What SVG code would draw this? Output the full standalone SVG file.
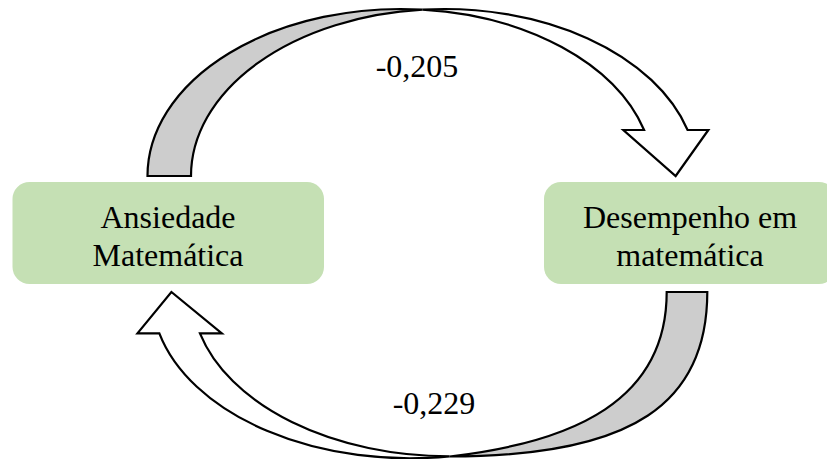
<svg xmlns="http://www.w3.org/2000/svg" width="827" height="459" viewBox="0 0 827 459">
  <style>
    .box { fill: #c5e0b4; }
    .label { font-family: "Liberation Serif", "Times New Roman", serif; font-size: 32px; fill: #000; text-anchor: middle; }
    .front { fill: #ffffff; stroke: #000; stroke-width: 2.2; stroke-linejoin: miter; }
    .back { fill: #cdcdcd; stroke: #000; stroke-width: 2.2; stroke-linejoin: miter; }
  </style>

  <!-- curved arrows -->
  <g id="connectors">
    <!-- upper arrow: Ansiedade -> Desempenho -->
    <g id="arrow-top">
      <path class="back" d="M147.5,176 A253.2,167 0 0 1 422.45,9.62 A253.2,167 0 0 0 191,176 Z"/>
      <path class="front" d="M422.45,9.62 A253.2,167 0 0 1 687.6,130 L708.35,130 L675.65,176 L623.35,130 L644.1,130 A253.2,167 0 0 0 422.45,9.62 Z"/>
      <text class="label" x="417" y="77">-0,205</text>
    </g>
    <!-- lower arrow: Desempenho -> Ansiedade -->
    <g id="arrow-bottom">
      <path class="back" d="M707.3,292 C707.3,402 635,456.5 449.5,456.5 C575,442 666.7,400 666.7,292 Z"/>
      <path class="front" d="M449.5,456.3 A257.8,164.5 0 0 1 159.35,333.3 L137.45,333.3 L171.4,292 L221.85,333.3 L199.95,333.3 A257.8,164.5 0 0 0 449.5,456.3 Z"/>
      <text class="label" x="434" y="414">-0,229</text>
    </g>
  </g>

  <!-- nodes -->
  <g id="node-ansiedade">
    <rect class="box" x="12.5" y="182" width="311.5" height="102" rx="17" ry="17"/>
    <text class="label" x="168" y="228">Ansiedade</text>
    <text class="label" x="168" y="266">Matemática</text>
  </g>
  <g id="node-desempenho">
    <rect class="box" x="544" y="182" width="292" height="102" rx="17" ry="17"/>
    <text class="label" x="690" y="228">Desempenho em</text>
    <text class="label" x="690" y="266">matemática</text>
  </g>
</svg>
